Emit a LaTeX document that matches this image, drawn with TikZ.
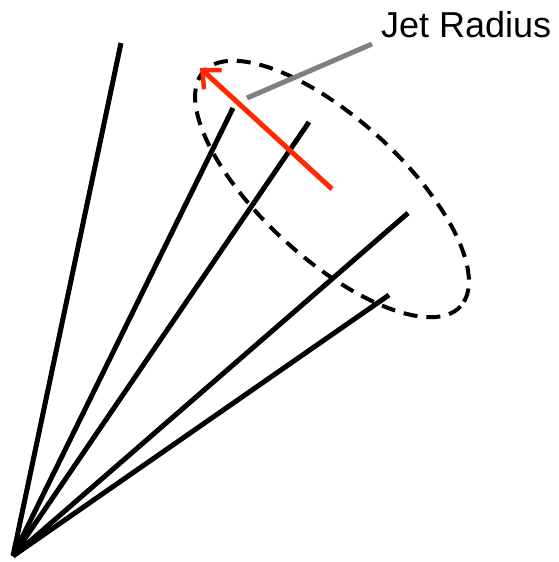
\documentclass[tikz,border=0pt]{standalone}
\usepackage{fontspec}
\setmainfont{Liberation Sans}
\usetikzlibrary{arrows.meta}
\definecolor{radiusred}{RGB}{255,40,0}
\begin{document}
\begin{tikzpicture}[x=1pt,y=-1pt]
            \useasboundingbox (0,0) rectangle (559,562);
            \coordinate (vertex) at (13,556);
            \coordinate (axis) at (332,189);
            % particles
            \foreach \p in {(121,43),(233,108),(309,122),(408,213),(389,295)}
                \draw[line width=5pt] (vertex) -- \p;
            % cone edge
            \draw[line width=4pt, dash pattern=on 14pt off 9pt, rotate around={-42.4:(axis)}]
                (axis) ellipse (174 and 70);
            \draw[radiusred, line width=5pt, -{Straight Barb[length=14pt,width=26pt,line width=4.5pt]}]
                (axis) -- (200,68);
            \node[anchor=base west, inner sep=0pt, font=\fontsize{36}{40}\selectfont] (label) at (381,37) {Jet Radius};
            \draw[gray, line width=5pt] (247,98) -- (372,44);
        \end{tikzpicture}
\end{document}
